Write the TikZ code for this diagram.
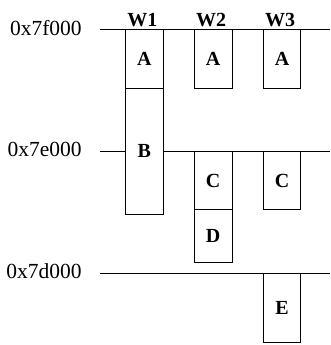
\documentclass[tikz,border=0pt]{standalone}
\usepackage{fontspec}
\setmainfont{Liberation Serif}
\usetikzlibrary{positioning}
\begin{document}
\begin{tikzpicture}[x=1pt,y=-1pt,semithick,
  page/.style={draw,rectangle,minimum width=37.3pt,inner sep=0pt,
    font=\fontsize{20}{24}\selectfont\bfseries},
  addr/.style={anchor=east,inner sep=0pt,yshift=2pt,font=\fontsize{21.5}{26}\selectfont},
  win/.style={anchor=base,inner sep=0pt,font=\fontsize{20}{24}\selectfont\bfseries}]

\useasboundingbox (0,0) rectangle (330,345);

\coordinate (f0) at (100,29.7);
\coordinate (f1) at (330,29.7);
\coordinate (e0) at (100,151.7);
\coordinate (e1) at (330,151.7);
\coordinate (d0) at (100,273);
\coordinate (d1) at (330,273);

\node [addr,left=18pt of f0] (a7f) {0x7f000};
\node [addr,left=18pt of e0] (a7e) {0x7e000};
\node [addr,left=18pt of d0] (a7d) {0x7d000};

\node [page,minimum height=58.3pt]  (w1a) at (144.3,58.8)  {A};
\node [page,minimum height=126.3pt] (w1b) at (144.3,151.2) {B};
\node [page,minimum height=58.3pt]  (w2a) at (213.2,58.8)  {A};
\node [page,minimum height=57.6pt]  (w2c) at (213.2,180.5) {C};
\node [page,minimum height=52.7pt]  (w2d) at (213.2,235.7) {D};
\node [page,minimum height=58.3pt]  (w3a) at (282,58.8)    {A};
\node [page,minimum height=57.6pt]  (w3c) at (282,180.5)   {C};
\node [page,minimum height=69.3pt]  (w3e) at (282,307.7)   {E};

\node [win] (h1) at ([xshift=-2pt,yshift=2.4pt]w1a.north) {W1};
\node [win] (h2) at ([xshift=-2pt,yshift=2.4pt]w2a.north) {W2};
\node [win] (h3) at ([xshift=-2pt,yshift=2.4pt]w3a.north) {W3};

\path [draw]
    (f0) -- (f1)
    (e0) -- (e0 -| w1b.west)
    (e0 -| w1b.east) -- (e1)
    (d0) -- (d1)
;

\end{tikzpicture}
\end{document}
